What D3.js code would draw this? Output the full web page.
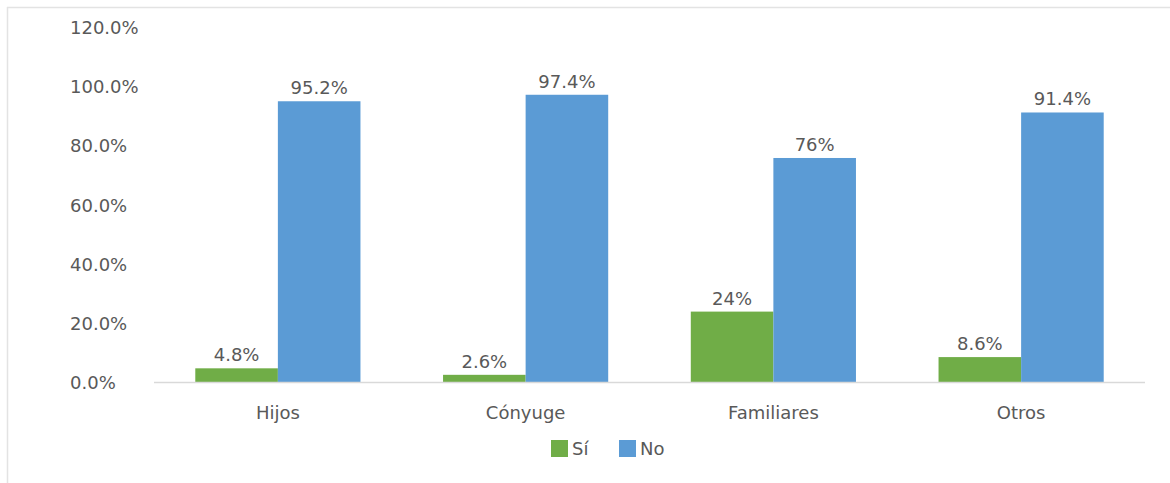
<!DOCTYPE html>
<html><head><meta charset="utf-8">
<script src="https://cdn.jsdelivr.net/npm/d3@7"></script>
<style>body{margin:0;background:#fff}svg{display:block}text{font-family:"DejaVu Sans",sans-serif;fill:#595959}</style>
</head><body>
<script>
const categories = ["Hijos", "Cónyuge", "Familiares", "Otros"];
const seriesNames = ["Sí", "No"];
const siValues = [4.8, 2.6, 24, 8.6];
const noValues = [95.2, 97.4, 76, 91.4];
const siLabels = ["4.8%", "2.6%", "24%", "8.6%"];
const noLabels = ["95.2%", "97.4%", "76%", "91.4%"];
const yTicks = [0, 20, 40, 60, 80, 100, 120];
const tickLabels = ["0.0%", "20.0%", "40.0%", "60.0%", "80.0%", "100.0%", "120.0%"];
const colors = ["#70AD47", "#5B9BD5"];

const W = 1170, H = 483;
const svg = d3.select("body").append("svg").attr("width", W).attr("height", H);
const FS = 18;

// outer border (top and left visible)
svg.append("line").attr("x1", 7).attr("x2", W).attr("y1", 7.5).attr("y2", 7.5).attr("stroke", "#e3e3e3").attr("stroke-width", 1.5);
svg.append("line").attr("x1", 7.5).attr("x2", 7.5).attr("y1", 7).attr("y2", H).attr("stroke", "#e3e3e3").attr("stroke-width", 1.5);

const x0 = d3.scaleBand().domain(categories).range([154, 1145]).paddingInner(0).paddingOuter(0);
const x1 = d3.scaleBand().domain(seriesNames).range([0, x0.bandwidth()]).paddingInner(0).paddingOuter(0.5);
const y = d3.scaleLinear().domain([0, 120]).range([382.5, 28]);

// y tick labels (left aligned)
const yAxis = svg.append("g");
yAxis.selectAll("text").data(yTicks).join("text")
  .attr("x", 70).attr("y", d => y(d)).attr("dy", "0.35em")
  .attr("font-size", FS).text((d, i) => tickLabels[i]);

const series = [
  {name: "Sí", values: siValues, labels: siLabels, color: colors[0]},
  {name: "No", values: noValues, labels: noLabels, color: colors[1]}
];

const g = svg.append("g");
series.forEach(s => {
  g.selectAll(null).data(categories).join("rect")
    .attr("x", d => x0(d) + x1(s.name))
    .attr("width", x1.bandwidth())
    .attr("y", (d, i) => y(s.values[i]))
    .attr("height", (d, i) => y(0) - y(s.values[i]))
    .attr("fill", s.color);
  g.selectAll(null).data(categories).join("text")
    .attr("x", d => x0(d) + x1(s.name) + x1.bandwidth() / 2)
    .attr("y", (d, i) => y(s.values[i]) - 7)
    .attr("text-anchor", "middle").attr("font-size", FS)
    .text((d, i) => s.labels[i]);
});

// baseline
svg.append("line").attr("x1", 154).attr("x2", 1145).attr("y1", y(0)).attr("y2", y(0)).attr("stroke", "#d9d9d9").attr("stroke-width", 1.5);

// x axis labels
const xAxis = d3.axisBottom(x0).tickSize(0).tickPadding(0);
const xg = svg.append("g").attr("transform", `translate(0,${y(0)})`).call(xAxis);
xg.select(".domain").remove();
xg.selectAll("text").attr("font-size", FS).attr("font-family", '"DejaVu Sans",sans-serif').attr("fill", "#595959").attr("dy", null).attr("y", 36);

// legend
const legend = svg.append("g");
const items = [{name: "Sí", x: 551, color: colors[0]}, {name: "No", x: 619, color: colors[1]}];
items.forEach((it, i) => {
  legend.append("rect").attr("x", it.x).attr("y", 440).attr("width", 17).attr("height", 17).attr("fill", series[i].color);
  legend.append("text").attr("x", it.x + 21).attr("y", 449).attr("dy", "0.35em").attr("font-size", FS).text(series[i].name);
});
</script>
</body></html>
